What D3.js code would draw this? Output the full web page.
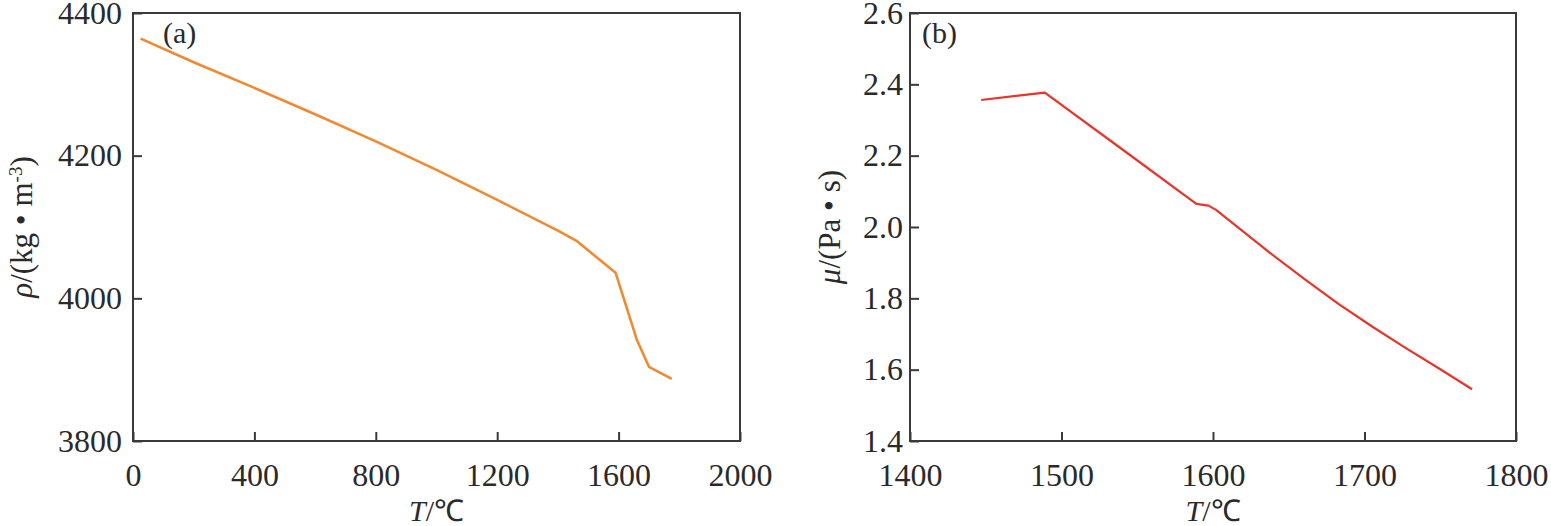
<!DOCTYPE html>
<html>
<head>
<meta charset="utf-8">
<script src="https://cdn.jsdelivr.net/npm/d3@7"></script>
<style>
  html, body { margin: 0; padding: 0; background: #fff; }
  svg text { font-family: "Liberation Serif", "Times New Roman", serif; fill: #2a2a2a; }
</style>
</head>
<body>
<div id="chart"></div>
<script>
// Panel (a): density vs temperature
const densityT = [25, 200, 400, 600, 800, 1000, 1200, 1400, 1460, 1590, 1660, 1700, 1775];
const densityRho = [4364, 4331, 4295, 4258, 4220, 4180, 4138, 4095, 4081, 4036, 3942, 3904, 3887];
const densityXTicks = [0, 400, 800, 1200, 1600, 2000];
const densityYTicks = [3800, 4000, 4200, 4400];

// Panel (b): viscosity vs temperature
const viscT = [1447, 1489, 1540, 1589, 1597, 1602, 1620, 1638, 1660, 1683, 1705, 1726, 1750, 1771];
const viscMu = [2.356, 2.377, 2.218, 2.065, 2.060, 2.048, 1.987, 1.926, 1.855, 1.784, 1.721, 1.664, 1.601, 1.545];
const viscXTicks = [1400, 1500, 1600, 1700, 1800];
const viscYTicks = [1.4, 1.6, 1.8, 2.0, 2.2, 2.4, 2.6];

const totalWidth = 1551;
const totalHeight = 526;
const serif = "'Liberation Serif', 'Times New Roman', serif";

const svg = d3.select("#chart")
    .append("svg")
    .attr("width", totalWidth)
    .attr("height", totalHeight);

function drawPanel(cfg) {
    const x = d3.scaleLinear().domain(cfg.xDomain).range([cfg.left, cfg.right]);
    const y = d3.scaleLinear().domain(cfg.yDomain).range([cfg.bottom, cfg.top]);
    const g = svg.append("g");

    // frame
    g.append("rect")
        .attr("x", cfg.left)
        .attr("y", cfg.top)
        .attr("width", cfg.right - cfg.left)
        .attr("height", cfg.bottom - cfg.top)
        .attr("fill", "none")
        .attr("stroke", "#3a3a3a")
        .attr("stroke-width", 2);

    // bottom axis: inward ticks, labels below
    const xAxis = g.append("g")
        .attr("transform", `translate(0,${cfg.bottom})`)
        .call(d3.axisBottom(x).tickValues(cfg.xTicks).tickFormat(d3.format("d"))
            .tickSizeInner(-9).tickSizeOuter(0).tickPadding(22));
    xAxis.select(".domain").remove();
    xAxis.selectAll("line").attr("stroke", "#3a3a3a").attr("stroke-width", 2);
    xAxis.selectAll("text")
        .style("font-family", serif)
        .style("font-size", "32px")
        .attr("fill", "#2a2a2a");

    const yAxis = g.append("g")
        .attr("transform", `translate(${cfg.left},0)`)
        .call(d3.axisLeft(y).tickValues(cfg.yTicks).tickFormat(cfg.yFormat)
            .tickSizeInner(-9).tickSizeOuter(0).tickPadding(cfg.yPad));
    yAxis.select(".domain").remove();
    yAxis.selectAll("line").attr("stroke", "#3a3a3a").attr("stroke-width", 2);
    yAxis.selectAll("text")
        .style("font-family", serif)
        .style("font-size", "32px")
        .attr("fill", "#2a2a2a");

    // curve
    const pts = cfg.xs.map((v, i) => [v, cfg.ys[i]]);
    g.append("path")
        .datum(pts)
        .attr("fill", "none")
        .attr("stroke", cfg.color)
        .attr("stroke-width", cfg.lineWidth)
        .attr("stroke-linejoin", "round")
        .attr("d", d3.line().x(d => x(d[0])).y(d => y(d[1])));

    // panel tag
    g.append("text")
        .attr("x", cfg.tagX)
        .attr("y", cfg.top + 30)
        .style("font-size", "30px")
        .text(cfg.tag);

    // x title
    const xt = g.append("text")
        .attr("x", (cfg.left + cfg.right) / 2)
        .attr("y", 521)
        .attr("text-anchor", "middle")
        .style("font-size", "30px");
    xt.append("tspan").attr("font-style", "italic").text("T");
    xt.append("tspan").text("/℃");

    // y title
    const yt = g.append("text")
        .attr("transform", `translate(${cfg.yTitleX},${(cfg.top + cfg.bottom) / 2}) rotate(-90)`)
        .attr("text-anchor", "middle")
        .style("font-size", "31px");
    cfg.yTitle(yt);
}

drawPanel({
    left: 133, right: 740, top: 13, bottom: 441,
    xDomain: [0, 2000], yDomain: [3800, 4400],
    xTicks: densityXTicks, yTicks: densityYTicks,
    yFormat: d3.format("d"), yPad: 11,
    xs: densityT, ys: densityRho,
    color: "#f08a32", lineWidth: 2.6,
    tag: "(a)", tagX: 163,
    yTitleX: 32,
    yTitle: t => {
        t.append("tspan").attr("font-style", "italic").text("ρ");
        t.append("tspan").text("/(kg • m");
        t.append("tspan").style("font-size", "19px").attr("baseline-shift", "55%").text("-3");
        t.append("tspan").text(")");
    }
});

drawPanel({
    left: 910, right: 1516, top: 13, bottom: 441,
    xDomain: [1400, 1800], yDomain: [1.4, 2.6],
    xTicks: viscXTicks, yTicks: viscYTicks,
    yFormat: d3.format(".1f"), yPad: 7,
    xs: viscT, ys: viscMu,
    color: "#e8342b", lineWidth: 2.2,
    tag: "(b)", tagX: 922,
    yTitleX: 840,
    yTitle: t => {
        t.append("tspan").attr("font-style", "italic").text("μ");
        t.append("tspan").text("/(Pa • s)");
    }
});
</script>
</body>
</html>
